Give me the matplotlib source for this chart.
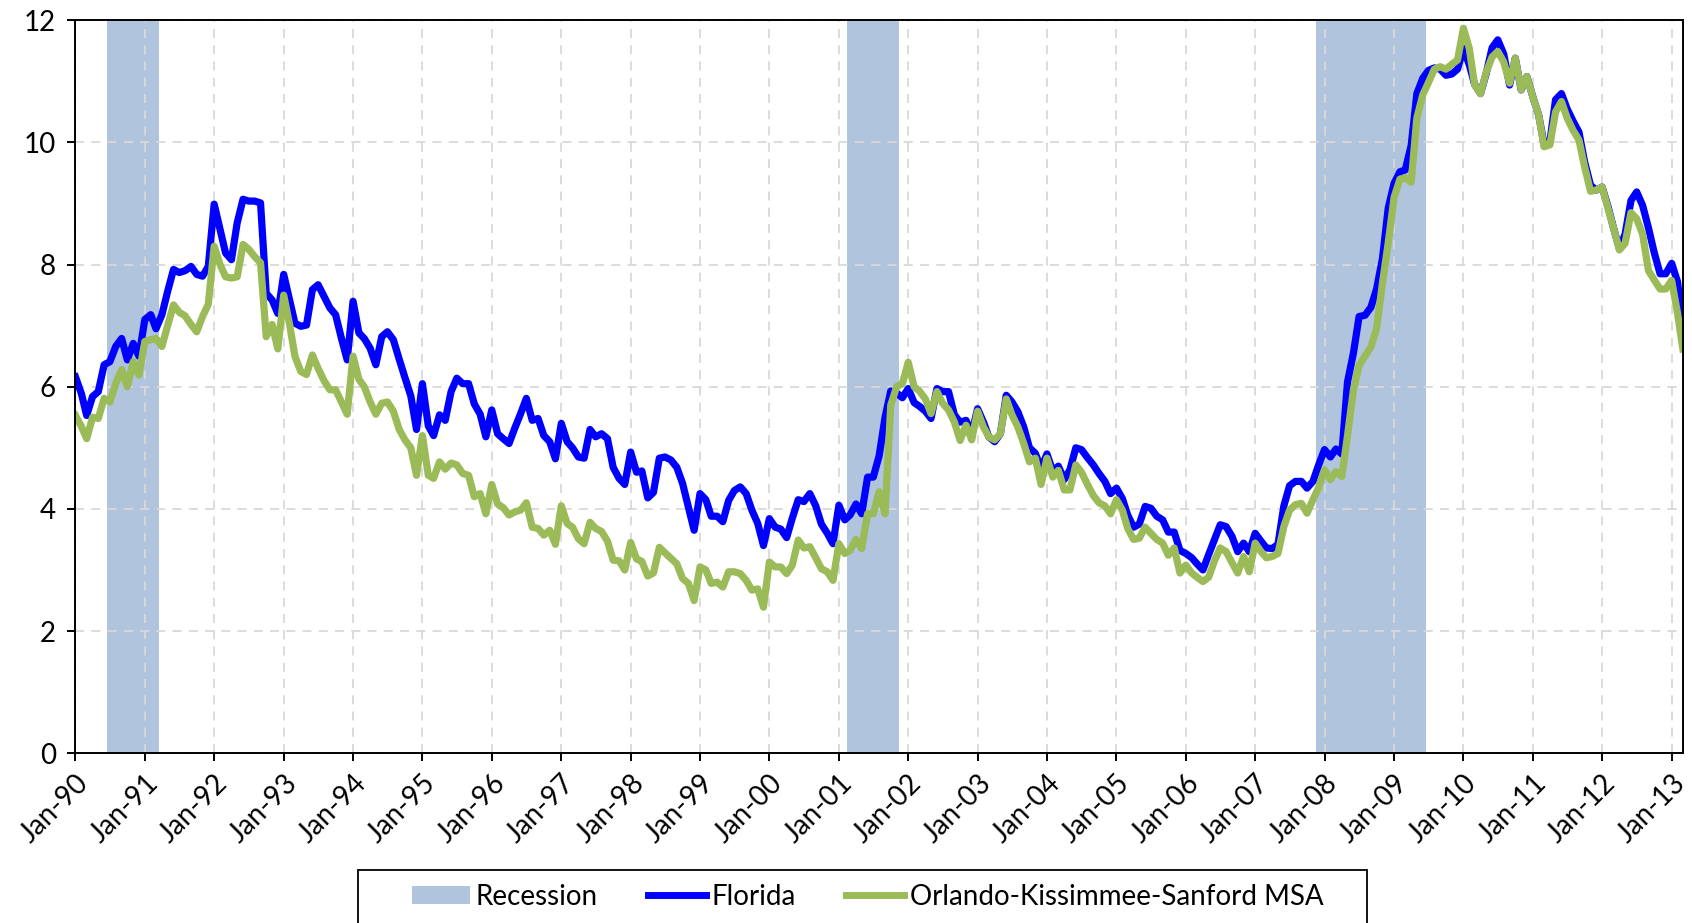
import pandas as pd
import matplotlib
matplotlib.use('Agg')
import matplotlib.pyplot as plt
from matplotlib.patches import Patch, Rectangle
from matplotlib.lines import Line2D

plt.rcParams['font.family'] = ['Lato', 'DejaVu Sans']

# monthly unemployment rate (%), not seasonally adjusted, Jan-1990 .. Mar-2013
florida = [
	6.16, 5.89, 5.53, 5.84, 5.92, 6.36, 6.41, 6.66, 6.79, 6.44, 6.71, 6.50,  # 1990
	7.10, 7.18, 6.95, 7.18, 7.56, 7.92, 7.87, 7.90, 7.97, 7.84, 7.81, 7.97,  # 1991
	8.99, 8.58, 8.19, 8.08, 8.68, 9.07, 9.04, 9.04, 9.01, 7.53, 7.42, 7.20,  # 1992
	7.84, 7.42, 7.04, 6.99, 7.01, 7.59, 7.67, 7.48, 7.29, 7.18, 6.79, 6.44,  # 1993
	7.40, 6.88, 6.79, 6.63, 6.36, 6.82, 6.90, 6.77, 6.45, 6.15, 5.85, 5.30,  # 1994
	6.05, 5.36, 5.20, 5.54, 5.45, 5.92, 6.14, 6.05, 6.05, 5.72, 5.55, 5.18,  # 1995
	5.62, 5.23, 5.15, 5.07, 5.32, 5.56, 5.81, 5.45, 5.48, 5.20, 5.10, 4.82,  # 1996
	5.40, 5.10, 5.00, 4.85, 4.83, 5.30, 5.18, 5.23, 5.15, 4.68, 4.50, 4.40,  # 1997
	4.93, 4.60, 4.62, 4.18, 4.27, 4.83, 4.85, 4.80, 4.68, 4.42, 4.03, 3.65,  # 1998
	4.25, 4.15, 3.88, 3.88, 3.79, 4.14, 4.30, 4.36, 4.25, 3.98, 3.76, 3.40,  # 1999
	3.84, 3.70, 3.67, 3.53, 3.85, 4.15, 4.12, 4.25, 4.05, 3.75, 3.60, 3.43,  # 2000
	4.06, 3.82, 3.90, 4.08, 3.92, 4.52, 4.52, 4.87, 5.50, 5.93, 5.90, 5.82,  # 2001
	5.97, 5.74, 5.68, 5.60, 5.48, 5.97, 5.92, 5.92, 5.54, 5.42, 5.45, 5.23,  # 2002
	5.64, 5.42, 5.18, 5.10, 5.23, 5.86, 5.75, 5.59, 5.34, 5.00, 4.91, 4.66,  # 2003
	4.90, 4.62, 4.70, 4.48, 4.64, 5.00, 4.97, 4.84, 4.72, 4.58, 4.45, 4.25,  # 2004
	4.34, 4.17, 3.90, 3.70, 3.75, 4.04, 4.01, 3.88, 3.82, 3.62, 3.62, 3.32,  # 2005
	3.27, 3.20, 3.10, 3.00, 3.25, 3.50, 3.74, 3.71, 3.55, 3.30, 3.44, 3.30,  # 2006
	3.60, 3.47, 3.36, 3.35, 3.42, 4.05, 4.38, 4.45, 4.45, 4.34, 4.45, 4.72,  # 2007
	4.97, 4.85, 4.98, 4.90, 6.08, 6.55, 7.15, 7.17, 7.30, 7.60, 8.10, 8.92,  # 2008
	9.33, 9.52, 9.55, 9.95, 10.80, 11.05, 11.18, 11.22, 11.20, 11.10, 11.12, 11.20,  # 2009
	11.54, 11.27, 10.95, 10.80, 11.13, 11.55, 11.68, 11.45, 10.94, 11.38, 10.86, 11.08,  # 2010
	10.75, 10.45, 9.98, 10.01, 10.70, 10.80, 10.55, 10.35, 10.17, 9.68, 9.30, 9.22,  # 2011
	9.27, 8.95, 8.60, 8.26, 8.50, 9.05, 9.19, 8.97, 8.60, 8.20, 7.85, 7.85,  # 2012
	8.02, 7.72, 7.00,  # 2013
]

orlando = [
	5.53, 5.35, 5.15, 5.50, 5.48, 5.81, 5.75, 6.05, 6.28, 6.00, 6.41, 6.19,  # 1990
	6.74, 6.77, 6.79, 6.66, 7.00, 7.34, 7.22, 7.16, 7.02, 6.90, 7.15, 7.35,  # 1991
	8.30, 8.00, 7.80, 7.78, 7.80, 8.33, 8.25, 8.13, 8.03, 6.82, 7.02, 6.62,  # 1992
	7.50, 7.02, 6.50, 6.25, 6.20, 6.52, 6.30, 6.10, 5.95, 5.95, 5.75, 5.55,  # 1993
	6.50, 6.12, 6.00, 5.75, 5.55, 5.73, 5.75, 5.60, 5.30, 5.13, 5.00, 4.55,  # 1994
	5.20, 4.55, 4.50, 4.77, 4.65, 4.75, 4.72, 4.58, 4.55, 4.20, 4.25, 3.92,  # 1995
	4.40, 4.08, 4.02, 3.90, 3.95, 3.98, 4.10, 3.70, 3.68, 3.57, 3.65, 3.42,  # 1996
	4.05, 3.76, 3.70, 3.51, 3.43, 3.78, 3.68, 3.63, 3.47, 3.16, 3.15, 3.00,  # 1997
	3.45, 3.18, 3.14, 2.90, 2.95, 3.37, 3.28, 3.19, 3.10, 2.86, 2.78, 2.50,  # 1998
	3.05, 3.00, 2.78, 2.80, 2.72, 2.97, 2.97, 2.94, 2.83, 2.67, 2.69, 2.39,  # 1999
	3.13, 3.05, 3.05, 2.94, 3.08, 3.49, 3.36, 3.38, 3.20, 3.02, 2.97, 2.83,  # 2000
	3.43, 3.27, 3.32, 3.50, 3.35, 3.92, 3.92, 4.28, 3.92, 5.70, 6.00, 6.05,  # 2001
	6.40, 6.00, 5.93, 5.80, 5.56, 5.92, 5.73, 5.62, 5.42, 5.12, 5.37, 5.13,  # 2002
	5.60, 5.34, 5.18, 5.13, 5.23, 5.80, 5.54, 5.34, 5.07, 4.77, 4.83, 4.40,  # 2003
	4.83, 4.52, 4.63, 4.31, 4.31, 4.72, 4.60, 4.40, 4.22, 4.10, 4.05, 3.92,  # 2004
	4.15, 3.98, 3.68, 3.50, 3.52, 3.70, 3.60, 3.50, 3.44, 3.24, 3.36, 2.95,  # 2005
	3.08, 2.95, 2.88, 2.81, 2.88, 3.15, 3.36, 3.30, 3.12, 2.95, 3.22, 2.97,  # 2006
	3.44, 3.30, 3.20, 3.22, 3.27, 3.71, 3.98, 4.07, 4.09, 3.93, 4.15, 4.35,  # 2007
	4.64, 4.48, 4.61, 4.53, 5.20, 5.95, 6.35, 6.50, 6.65, 6.95, 7.70, 8.35,  # 2008
	9.10, 9.40, 9.42, 9.35, 10.40, 10.78, 10.98, 11.20, 11.24, 11.20, 11.28, 11.35,  # 2009
	11.87, 11.54, 10.94, 10.80, 11.15, 11.40, 11.49, 11.32, 10.97, 11.38, 10.86, 11.08,  # 2010
	10.75, 10.45, 9.93, 9.96, 10.50, 10.67, 10.40, 10.20, 10.04, 9.60, 9.20, 9.22,  # 2011
	9.27, 8.92, 8.60, 8.24, 8.35, 8.85, 8.75, 8.50, 7.90, 7.75, 7.60, 7.60,  # 2012
	7.74, 7.20, 6.62,  # 2013
]

# NBER recessions (first and last month)
recessions = [('1990-07-01', '1991-03-01'), ('2001-03-01', '2001-11-01'), ('2007-12-01', '2009-06-01')]

y_ticks = [0, 2, 4, 6, 8, 10, 12]

dates = pd.date_range('1990-01-01', periods=len(florida), freq='MS')

fig = plt.figure(figsize=(16.92, 9.23), dpi=100)
ax = fig.add_axes([0.0446, 0.184, 0.95, 0.794])

# monthly bars in the original, so each band spans half a month either side
half = pd.Timedelta(days=15)
band_color = '#B0C4DE'
for start, end in recessions:
	ax.axvspan(pd.Timestamp(start) - half, pd.Timestamp(end) + half, color=band_color, lw=0, zorder=1)

ax.plot(dates, florida, color='#0000FF', lw=5.2, solid_joinstyle='round', zorder=3)
ax.plot(dates, orlando, color='#9BBB59', lw=5.2, solid_joinstyle='round', zorder=4)

ax.set_xlim(dates[0], dates[-1])
ax.set_ylim(0, 12)
ax.set_yticks(y_ticks)

jan_ticks = pd.date_range(dates[0], dates[-1], freq='YS')
ax.set_xticks(jan_ticks)
ax.set_xticklabels([d.strftime('%b-%y') for d in jan_ticks], rotation=45, ha='right',
				   rotation_mode='anchor')

ax.grid(True, color='#D9D9D9', linestyle=(0, (5, 4)), linewidth=1.3)
for line in ax.get_xgridlines() + ax.get_ygridlines():
	line.set_zorder(2)

for side in ['left', 'right', 'top', 'bottom']:
	ax.spines[side].set_color('black')
	ax.spines[side].set_linewidth(1.4)
	ax.spines[side].set_zorder(5)

ax.tick_params(axis='both', direction='out', length=6, width=1.4, labelsize=20, colors='black')
ax.tick_params(axis='x', pad=6)
ax.tick_params(axis='y', pad=8)

# legend
handles = [
	Patch(facecolor=band_color, edgecolor='none', label='Recession'),
	Line2D([], [], color='#0000FF', lw=5, label='Florida'),
	Line2D([], [], color='#9BBB59', lw=5, label='Orlando-Kissimmee-Sanford MSA'),
]
fig.legend(handles=handles, loc='center', bbox_to_anchor=(0.5127, 0.0286), ncol=3, frameon=False,
		   fontsize=20, handlelength=2.1, handleheight=0.65, handletextpad=0.2, columnspacing=1.8)
fig.patches.append(Rectangle((358 / 1692, -0.02), (1367 - 358) / 1692, 0.0574 + 0.02,
							 transform=fig.transFigure, fill=False, edgecolor='black', lw=1.3))

fig.savefig('out.png', dpi=100)
